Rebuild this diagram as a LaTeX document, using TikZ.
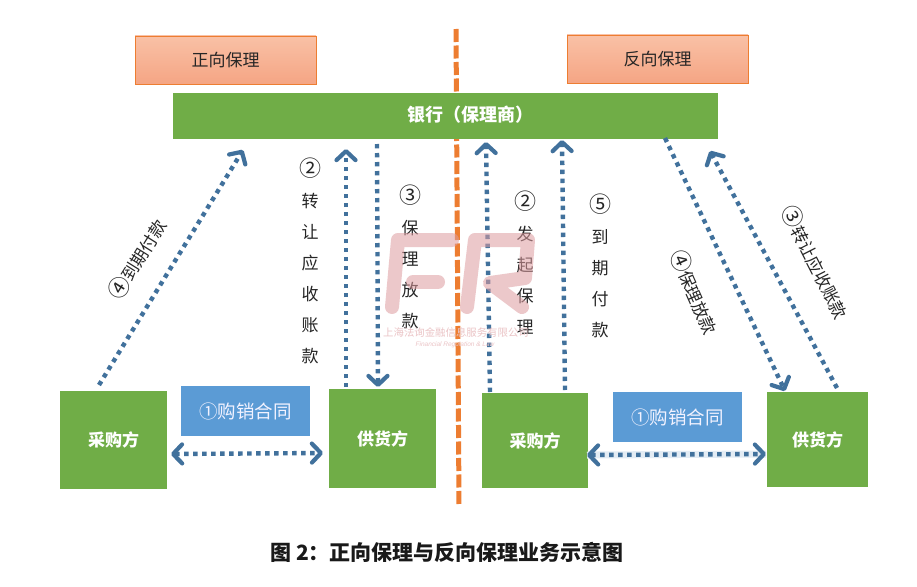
\documentclass[tikz,border=0pt]{standalone}
\usepackage{fontspec}
\setmainfont{Liberation Sans}
\newfontfamily\cjk{Noto Sans CJK SC}
\usetikzlibrary{arrows.meta}
\definecolor{grn}{HTML}{70AD47}
\definecolor{blu}{HTML}{5B9BD5}
\definecolor{arw}{HTML}{41719C}
\definecolor{org}{HTML}{ED7D31}
\definecolor{wm}{HTML}{DE9CA0}
\definecolor{saltop}{HTML}{F9C1A6}
\definecolor{salbot}{HTML}{F5A584}
\definecolor{halo}{HTML}{E3ECF4}
\tikzset{
  barb/.tip={Straight Barb[length=9pt,width=19pt,line width=4.2pt,round]},
  gbox/.style={fill=grn,draw=none,inner sep=0pt,text=white,font=\cjk\fontsize{17}{17}\selectfont\bfseries},
  titlebox/.style={top color=saltop,bottom color=salbot,draw=org,line width=0.9pt,inner sep=0pt,minimum width=181pt,minimum height=48pt,font=\cjk\fontsize{17}{17}\selectfont,text=black!85},
  bbox/.style={fill=blu,draw=none,inner sep=0pt,minimum width=129pt,minimum height=50pt,text=blue!5!white,font=\cjk\fontsize{18.5}{18}\selectfont},
  flow/.style={draw=arw,line width=4.4pt,dash pattern=on 4.4pt off 4.6pt,-barb},
  flowboth/.style={flow,barb-barb},
  vlab/.style={inner sep=0pt,align=center,text=black!85,font=\cjk\fontsize{17}{31}\selectfont},
  rlab/.style={inner sep=0pt,text=black!85,font=\cjk\fontsize{17}{17}\selectfont},
}
\newcommand{\cnum}[1]{{\fontsize{22}{22}\selectfont #1}}
\begin{document}
\begin{tikzpicture}[x=1pt,y=-1pt]
\useasboundingbox[fill=white] (0,0) rectangle (917,586);
% central divider
\coordinate (divtop) at (456,29);
\coordinate (divbot) at (459,507);
\draw[org,line width=5pt,dash pattern=on 13pt off 3.5pt] (divtop) -- (divbot);
% boxes
\node[titlebox] (tl) at (225.5,60) {正向保理};
\node[titlebox] (tr) at (657.5,59) {反向保理};
\node[gbox,minimum width=545pt,minimum height=46pt] (bank) at (445.5,116) {};
\node[inner sep=0pt,text=white,font=\cjk\fontsize{18}{18}\selectfont\bfseries] (banktext) at (470,115) {银行（保理商）};
\node[gbox,minimum width=107pt,minimum height=98pt] (buyL) at (113.5,440) {采购方};
\node[gbox,minimum width=107pt,minimum height=99pt] (selL) at (382.5,438.5) {供货方};
\node[gbox,minimum width=106pt,minimum height=95pt] (buyR) at (535,440.5) {采购方};
\node[gbox,minimum width=101pt,minimum height=95pt] (selR) at (817.5,439.5) {供货方};
\node[bbox] (conL) at (245.5,411) {①购销合同};
\node[bbox] (conR) at (677.5,417) {①购销合同};
% connector ends
\coordinate (a1) at (99,385);   \coordinate (a2) at (243,150);
\coordinate (b1) at (346,387);  \coordinate (b2) at (346,149);
\coordinate (c1) at (377,144);  \coordinate (c2) at (378,387);
\coordinate (d1) at (490,392);  \coordinate (d2) at (486,142);
\coordinate (e1) at (565,390);  \coordinate (e2) at (562,140);
\coordinate (f1) at (665,138);  \coordinate (f2) at (785,391);
\coordinate (g1) at (837,388);  \coordinate (g2) at (710,151);
\coordinate (h1) at (171,454);  \coordinate (h2) at (323,453);
\coordinate (i1) at (587,455);  \coordinate (i2) at (766,454);
\draw[halo,line width=7pt] (i1) -- (i2);
\draw[flow] (a1) -- (a2);
\draw[flow] (b1) -- (b2);
\draw[flow] (c1) -- (c2);
\draw[flow] (d1) -- (d2);
\draw[flow] (e1) -- (e2);
\draw[flow] (f1) -- (f2);
\draw[flow] (g1) -- (g2);
\draw[flowboth] (h1) -- (h2);
\draw[flowboth] (i1) -- (i2);
% labels
\node[vlab] (v1) at (310,261) {\cnum{②}\\转\\让\\应\\收\\账\\款};
\node[vlab] (v2) at (410,257) {\cnum{③}\\保\\理\\放\\款};
\node[vlab] (v3) at (525,263) {\cnum{②}\\发\\起\\保\\理};
\node[vlab] (v4) at (600,266) {\cnum{⑤}\\到\\期\\付\\款};
\node[rlab,rotate=58] (r1) at (137,259) {\cnum{④}到期付款};
\node[rlab,rotate=-66] (r2) at (695,292) {\cnum{④}保理放款};
\node[rlab,rotate=-63] (r3) at (816,262) {\cnum{③}转让应收账款};
% watermark
\begin{scope}[opacity=.55,draw=wm,line width=14pt,line cap=round,line join=round]
\draw (392,307) -- (398,240) -- (452,240);
\draw (413,282) -- (438,282);
\draw (467,307) -- (475,240) -- (528,240) -- (525,278) -- (490,283) -- (522,307);
\end{scope}
\node[inner sep=0pt,text=wm!60!white,font=\cjk\fontsize{10.4}{11}\selectfont] (wm1) at (456,333) {上海法询金融信息服务有限公司};
\node[inner sep=0pt,text=wm!60!white,font=\itshape\fontsize{6.5}{7}\selectfont] (wm2) at (455,345) {Financial Regulation \& Law};
% caption
\node[inner sep=0pt,text=black!90,font=\cjk\fontsize{21}{21}\selectfont\bfseries] (cap) at (447,552) {图 2：正向保理与反向保理业务示意图};
\end{tikzpicture}
\end{document}
